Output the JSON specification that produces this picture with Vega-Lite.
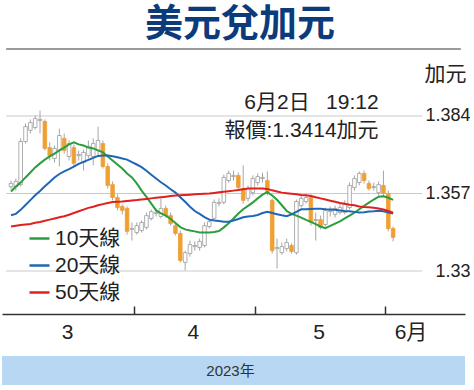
{
  "$schema": "https://vega.github.io/schema/vega-lite/v6.json",
  "padding": {"left": 2, "top": 6, "right": 0, "bottom": 0},
  "background": "white",
  "config": {
    "font": "Liberation Sans, Noto Sans CJK TC, sans-serif",
    "view": {"stroke": null}
  },
  "title": {"text": "美元兌加元", "fontSize": 38, "fontWeight": "bold", "color": "#0c3b7c", "font": "Noto Sans CJK TC, sans-serif", "anchor": "middle", "dx": 4, "offset": 4},
  "datasets": {
    "fx": [
      {"date":"2023-03-02","o":1.3594,"h":1.3615,"l":1.3584,"c":1.3605,"10天線":1.3577,"20天線":1.3494,"50天線":1.3455},
      {"date":"2023-03-03","o":1.3594,"h":1.3622,"l":1.3580,"c":1.3612,"10天線":1.3594,"20天線":1.3499,"50天線":1.3458},
      {"date":"2023-03-05","o":1.3601,"h":1.3762,"l":1.3594,"c":1.3751,"10天線":1.3608,"20天線":1.3513,"50天線":1.3460},
      {"date":"2023-03-06","o":1.3751,"h":1.3814,"l":1.3744,"c":1.3803,"10天線":1.3626,"20天線":1.3530,"50天線":1.3462},
      {"date":"2023-03-07","o":1.3790,"h":1.3828,"l":1.3779,"c":1.3817,"10天線":1.3643,"20天線":1.3547,"50天線":1.3464},
      {"date":"2023-03-08","o":1.3800,"h":1.3842,"l":1.3793,"c":1.3831,"10天線":1.3661,"20天線":1.3564,"50天線":1.3468},
      {"date":"2023-03-09","o":1.3824,"h":1.3859,"l":1.3779,"c":1.3828,"10天線":1.3675,"20天線":1.3579,"50天線":1.3471},
      {"date":"2023-03-10","o":1.3821,"h":1.3828,"l":1.3720,"c":1.3727,"10天線":1.3688,"20天線":1.3595,"50天線":1.3475},
      {"date":"2023-03-12","o":1.3730,"h":1.3748,"l":1.3685,"c":1.3702,"10天線":1.3699,"20天線":1.3610,"50天線":1.3479},
      {"date":"2023-03-13","o":1.3692,"h":1.3737,"l":1.3678,"c":1.3727,"10天線":1.3709,"20天線":1.3626,"50天線":1.3483},
      {"date":"2023-03-14","o":1.3720,"h":1.3796,"l":1.3664,"c":1.3772,"10天線":1.3720,"20天線":1.3638,"50天線":1.3487},
      {"date":"2023-03-15","o":1.3762,"h":1.3779,"l":1.3709,"c":1.3720,"10天線":1.3730,"20天線":1.3647,"50天線":1.3491},
      {"date":"2023-03-16","o":1.3699,"h":1.3755,"l":1.3685,"c":1.3744,"10天線":1.3741,"20天線":1.3655,"50天線":1.3496},
      {"date":"2023-03-17","o":1.3730,"h":1.3741,"l":1.3664,"c":1.3675,"10天線":1.3748,"20天線":1.3664,"50天線":1.3502},
      {"date":"2023-03-19","o":1.3702,"h":1.3720,"l":1.3685,"c":1.3706,"10天線":1.3741,"20天線":1.3673,"50天線":1.3508},
      {"date":"2023-03-20","o":1.3678,"h":1.3723,"l":1.3650,"c":1.3713,"10天線":1.3737,"20天線":1.3680,"50天線":1.3514},
      {"date":"2023-03-21","o":1.3702,"h":1.3755,"l":1.3692,"c":1.3734,"10天線":1.3730,"20天線":1.3687,"50天線":1.3520},
      {"date":"2023-03-22","o":1.3699,"h":1.3762,"l":1.3668,"c":1.3744,"10天線":1.3727,"20天線":1.3694,"50天線":1.3524},
      {"date":"2023-03-23","o":1.3720,"h":1.3803,"l":1.3702,"c":1.3755,"10天線":1.3720,"20天線":1.3701,"50天線":1.3529},
      {"date":"2023-03-24","o":1.3744,"h":1.3755,"l":1.3657,"c":1.3664,"10天線":1.3713,"20天線":1.3702,"50天線":1.3533},
      {"date":"2023-03-26","o":1.3664,"h":1.3675,"l":1.3587,"c":1.3598,"10天線":1.3699,"20天線":1.3702,"50天線":1.3537},
      {"date":"2023-03-27","o":1.3601,"h":1.3612,"l":1.3546,"c":1.3556,"10天線":1.3685,"20天線":1.3700,"50天線":1.3540},
      {"date":"2023-03-28","o":1.3556,"h":1.3567,"l":1.3511,"c":1.3521,"10天線":1.3671,"20天線":1.3696,"50天線":1.3541},
      {"date":"2023-03-29","o":1.3525,"h":1.3532,"l":1.3497,"c":1.3511,"10天線":1.3657,"20天線":1.3692,"50天線":1.3542},
      {"date":"2023-03-30","o":1.3518,"h":1.3525,"l":1.3427,"c":1.3438,"10天線":1.3640,"20天線":1.3688,"50天線":1.3544},
      {"date":"2023-03-31","o":1.3445,"h":1.3469,"l":1.3406,"c":1.3448,"10天線":1.3626,"20天線":1.3679,"50天線":1.3546},
      {"date":"2023-04-02","o":1.3434,"h":1.3469,"l":1.3427,"c":1.3458,"10天線":1.3605,"20天線":1.3671,"50天線":1.3547},
      {"date":"2023-04-03","o":1.3441,"h":1.3476,"l":1.3434,"c":1.3469,"10天線":1.3580,"20天線":1.3662,"50天線":1.3549},
      {"date":"2023-04-04","o":1.3452,"h":1.3504,"l":1.3445,"c":1.3493,"10天線":1.3558,"20天線":1.3649,"50天線":1.3551},
      {"date":"2023-04-05","o":1.3483,"h":1.3514,"l":1.3476,"c":1.3507,"10天線":1.3535,"20天線":1.3635,"50天線":1.3553},
      {"date":"2023-04-06","o":1.3500,"h":1.3518,"l":1.3490,"c":1.3504,"10天線":1.3511,"20天線":1.3622,"50天線":1.3555},
      {"date":"2023-04-07","o":1.3490,"h":1.3553,"l":1.3483,"c":1.3518,"10天線":1.3501,"20天線":1.3609,"50天線":1.3557},
      {"date":"2023-04-09","o":1.3518,"h":1.3528,"l":1.3486,"c":1.3493,"10天線":1.3493,"20天線":1.3598,"50天線":1.3559},
      {"date":"2023-04-10","o":1.3493,"h":1.3504,"l":1.3458,"c":1.3465,"10天線":1.3481,"20天線":1.3585,"50天線":1.3561},
      {"date":"2023-04-11","o":1.3458,"h":1.3469,"l":1.3424,"c":1.3431,"10天線":1.3467,"20天線":1.3573,"50天線":1.3563},
      {"date":"2023-04-12","o":1.3431,"h":1.3441,"l":1.3330,"c":1.3337,"10天線":1.3453,"20天線":1.3557,"50天線":1.3564},
      {"date":"2023-04-13","o":1.3330,"h":1.3371,"l":1.3302,"c":1.3364,"10天線":1.3445,"20天線":1.3541,"50天線":1.3565},
      {"date":"2023-04-14","o":1.3361,"h":1.3406,"l":1.3350,"c":1.3392,"10天線":1.3441,"20天線":1.3524,"50天線":1.3566},
      {"date":"2023-04-16","o":1.3385,"h":1.3403,"l":1.3371,"c":1.3389,"10天線":1.3438,"20天線":1.3509,"50天線":1.3567},
      {"date":"2023-04-17","o":1.3382,"h":1.3413,"l":1.3371,"c":1.3403,"10天線":1.3434,"20天線":1.3499,"50天線":1.3568},
      {"date":"2023-04-18","o":1.3389,"h":1.3469,"l":1.3382,"c":1.3458,"10天線":1.3434,"20天線":1.3488,"50天線":1.3569},
      {"date":"2023-04-19","o":1.3455,"h":1.3483,"l":1.3448,"c":1.3472,"10天線":1.3434,"20天線":1.3479,"50天線":1.3570},
      {"date":"2023-04-20","o":1.3483,"h":1.3549,"l":1.3476,"c":1.3539,"10天線":1.3436,"20天線":1.3476,"50天線":1.3572},
      {"date":"2023-04-21","o":1.3535,"h":1.3553,"l":1.3525,"c":1.3539,"10天線":1.3439,"20天線":1.3474,"50天線":1.3574},
      {"date":"2023-04-23","o":1.3539,"h":1.3636,"l":1.3532,"c":1.3626,"10天線":1.3452,"20天線":1.3472,"50天線":1.3576},
      {"date":"2023-04-24","o":1.3615,"h":1.3650,"l":1.3608,"c":1.3640,"10天線":1.3466,"20天線":1.3472,"50天線":1.3578},
      {"date":"2023-04-25","o":1.3629,"h":1.3650,"l":1.3615,"c":1.3633,"10天線":1.3483,"20天線":1.3476,"50天線":1.3580},
      {"date":"2023-04-26","o":1.3633,"h":1.3643,"l":1.3584,"c":1.3591,"10天線":1.3500,"20天線":1.3481,"50天線":1.3582},
      {"date":"2023-04-27","o":1.3587,"h":1.3668,"l":1.3535,"c":1.3546,"10天線":1.3515,"20天線":1.3487,"50天線":1.3585},
      {"date":"2023-04-28","o":1.3553,"h":1.3598,"l":1.3542,"c":1.3587,"10天線":1.3527,"20天線":1.3490,"50天線":1.3587},
      {"date":"2023-04-30","o":1.3573,"h":1.3633,"l":1.3563,"c":1.3622,"10天線":1.3539,"20天線":1.3492,"50天線":1.3587},
      {"date":"2023-05-01","o":1.3608,"h":1.3640,"l":1.3598,"c":1.3629,"10天線":1.3553,"20天線":1.3495,"50天線":1.3587},
      {"date":"2023-05-02","o":1.3622,"h":1.3643,"l":1.3608,"c":1.3626,"10天線":1.3566,"20天線":1.3502,"50天線":1.3587},
      {"date":"2023-05-03","o":1.3615,"h":1.3647,"l":1.3563,"c":1.3573,"10天線":1.3575,"20天線":1.3506,"50天線":1.3586},
      {"date":"2023-05-04","o":1.3546,"h":1.3553,"l":1.3361,"c":1.3371,"10天線":1.3563,"20天線":1.3502,"50天線":1.3581},
      {"date":"2023-05-05","o":1.3378,"h":1.3413,"l":1.3309,"c":1.3382,"10天線":1.3548,"20天線":1.3498,"50天線":1.3577},
      {"date":"2023-05-07","o":1.3364,"h":1.3399,"l":1.3357,"c":1.3385,"10天線":1.3529,"20天線":1.3494,"50天線":1.3573},
      {"date":"2023-05-08","o":1.3378,"h":1.3413,"l":1.3368,"c":1.3399,"10天線":1.3509,"20天線":1.3491,"50天線":1.3571},
      {"date":"2023-05-09","o":1.3389,"h":1.3396,"l":1.3361,"c":1.3368,"10天線":1.3499,"20天線":1.3497,"50天線":1.3569},
      {"date":"2023-05-10","o":1.3364,"h":1.3549,"l":1.3357,"c":1.3542,"10天線":1.3493,"20天線":1.3506,"50天線":1.3567},
      {"date":"2023-05-11","o":1.3528,"h":1.3563,"l":1.3521,"c":1.3553,"10天線":1.3486,"20天線":1.3515,"50天線":1.3565},
      {"date":"2023-05-12","o":1.3542,"h":1.3567,"l":1.3535,"c":1.3556,"10天線":1.3478,"20天線":1.3515,"50天線":1.3564},
      {"date":"2023-05-14","o":1.3556,"h":1.3567,"l":1.3458,"c":1.3469,"10天線":1.3471,"20天線":1.3516,"50天線":1.3561},
      {"date":"2023-05-15","o":1.3476,"h":1.3504,"l":1.3406,"c":1.3479,"10天線":1.3463,"20天線":1.3517,"50天線":1.3557},
      {"date":"2023-05-16","o":1.3479,"h":1.3493,"l":1.3445,"c":1.3452,"10天線":1.3455,"20天線":1.3517,"50天線":1.3553},
      {"date":"2023-05-17","o":1.3462,"h":1.3521,"l":1.3455,"c":1.3511,"10天線":1.3449,"20天線":1.3515,"50天線":1.3549},
      {"date":"2023-05-18","o":1.3507,"h":1.3525,"l":1.3490,"c":1.3511,"10天線":1.3457,"20天線":1.3514,"50天線":1.3545},
      {"date":"2023-05-19","o":1.3497,"h":1.3528,"l":1.3486,"c":1.3518,"10天線":1.3465,"20天線":1.3513,"50天線":1.3541},
      {"date":"2023-05-21","o":1.3504,"h":1.3535,"l":1.3497,"c":1.3521,"10天線":1.3473,"20天線":1.3511,"50天線":1.3537},
      {"date":"2023-05-22","o":1.3504,"h":1.3546,"l":1.3497,"c":1.3532,"10天線":1.3483,"20天線":1.3509,"50天線":1.3534},
      {"date":"2023-05-23","o":1.3521,"h":1.3608,"l":1.3514,"c":1.3598,"10天線":1.3493,"20天線":1.3508,"50天線":1.3531},
      {"date":"2023-05-24","o":1.3591,"h":1.3633,"l":1.3580,"c":1.3622,"10天線":1.3503,"20天線":1.3506,"50天線":1.3529},
      {"date":"2023-05-25","o":1.3608,"h":1.3647,"l":1.3598,"c":1.3640,"10天線":1.3515,"20天線":1.3504,"50天線":1.3525},
      {"date":"2023-05-26","o":1.3640,"h":1.3650,"l":1.3605,"c":1.3615,"10天線":1.3527,"20天線":1.3505,"50天線":1.3523},
      {"date":"2023-05-28","o":1.3605,"h":1.3615,"l":1.3580,"c":1.3587,"10天線":1.3538,"20天線":1.3507,"50天線":1.3522},
      {"date":"2023-05-29","o":1.3591,"h":1.3608,"l":1.3580,"c":1.3594,"10天線":1.3549,"20天線":1.3508,"50天線":1.3520},
      {"date":"2023-05-30","o":1.3573,"h":1.3612,"l":1.3563,"c":1.3601,"10天線":1.3559,"20天線":1.3510,"50天線":1.3518},
      {"date":"2023-05-31","o":1.3598,"h":1.3650,"l":1.3560,"c":1.3570,"10天線":1.3560,"20天線":1.3508,"50天線":1.3514},
      {"date":"2023-06-01","o":1.3570,"h":1.3580,"l":1.3438,"c":1.3448,"10天線":1.3555,"20天線":1.3504,"50天線":1.3509},
      {"date":"2023-06-02","o":1.3448,"h":1.3455,"l":1.3403,"c":1.3417,"10天線":1.3548,"20天線":1.3500,"50天線":1.3503}
    ]
  },
  "spacing": 14,
  "vconcat": [
    {
      "width": 463,
      "height": 265,
      "data": {"name": "fx"},
      "encoding": {
        "x": {
          "field": "date",
          "type": "ordinal",
          "scale": {
            "domain": ["2023-03-01","2023-03-02","2023-03-03","2023-03-05","2023-03-06","2023-03-07","2023-03-08","2023-03-09","2023-03-10","2023-03-12","2023-03-13","2023-03-14","2023-03-15","2023-03-16","2023-03-17","2023-03-19","2023-03-20","2023-03-21","2023-03-22","2023-03-23","2023-03-24","2023-03-26","2023-03-27","2023-03-28","2023-03-29","2023-03-30","2023-03-31","2023-04-02","2023-04-03","2023-04-04","2023-04-05","2023-04-06","2023-04-07","2023-04-09","2023-04-10","2023-04-11","2023-04-12","2023-04-13","2023-04-14","2023-04-16","2023-04-17","2023-04-18","2023-04-19","2023-04-20","2023-04-21","2023-04-23","2023-04-24","2023-04-25","2023-04-26","2023-04-27","2023-04-28","2023-04-30","2023-05-01","2023-05-02","2023-05-03","2023-05-04","2023-05-05","2023-05-07","2023-05-08","2023-05-09","2023-05-10","2023-05-11","2023-05-12","2023-05-14","2023-05-15","2023-05-16","2023-05-17","2023-05-18","2023-05-19","2023-05-21","2023-05-22","2023-05-23","2023-05-24","2023-05-25","2023-05-26","2023-05-28","2023-05-29","2023-05-30","2023-05-31","2023-06-01","2023-06-02","2023-06-04","2023-06-05","2023-06-06","2023-06-07","2023-06-08","2023-06-09","2023-06-11","2023-06-12","2023-06-13","2023-06-14","2023-06-15","2023-06-16","2023-06-18","2023-06-19"],
            "paddingInner": 0,
            "paddingOuter": 0.36
          },
          "axis": {
            "title": null,
            "values": ["2023-03-16","2023-04-02","2023-04-16","2023-05-01","2023-05-16","2023-06-01","2023-06-07"],
            "bandPosition": 0,
            "labelExpr": "datum.value == '2023-03-16' ? '3' : datum.value == '2023-04-16' ? '4' : datum.value == '2023-05-16' ? '5' : datum.value == '2023-06-07' ? '6月' : ''",
            "labelAngle": 0,
            "labelFontSize": 21,
            "labelColor": "#222222",
            "labelPadding": 15,
            "labelOffset": -1.5,
            "labelOverlap": false,
            "labelBound": false,
            "tickSize": -8,
            "tickColor": "#333333",
            "tickWidth": 1.5,
            "tickOpacity": {"condition": {"test": "datum.value == '2023-04-02' || datum.value == '2023-05-01' || datum.value == '2023-06-01'", "value": 1}, "value": 0},
            "domainColor": "#333333",
            "domainWidth": 1.5,
            "grid": false
          }
        }
      },
      "layer": [
        {
          "data": {"values": [{"g": 1.33}, {"g": 1.357}, {"g": 1.384}]},
          "mark": {"type": "rule", "color": "#c9c9c9", "strokeWidth": 1},
          "encoding": {
            "x": {"datum": "2023-03-01", "type": "ordinal"},
            "x2": {"datum": "2023-06-09"},
            "y": {
              "field": "g",
              "type": "quantitative",
              "scale": {"domain": [1.31502, 1.40734], "nice": false, "zero": false},
              "axis": {
                "orient": "right",
                "title": "加元",
                "titleAngle": 0,
                "titleX": -20,
                "titleY": 25,
                "titleAlign": "center",
                "titleBaseline": "middle",
                "titleFontSize": 21,
                "titleFontWeight": "normal",
                "titleColor": "#222222",
                "values": [1.33, 1.357, 1.384],
                "format": ".3~f",
                "grid": false,
                "domain": false,
                "ticks": false,
                "labelPadding": 5,
                "labelAlign": "right",
                "labelBaseline": "middle",
                "labelFontSize": 18,
                "labelColor": "#222222"
              }
            }
          }
        },
        {
          "mark": {"type": "rule", "color": "#a6a6a6", "strokeWidth": 1},
          "encoding": {
            "y": {"field": "l", "type": "quantitative"},
            "y2": {"field": "h"}
          }
        },
        {
          "mark": {"type": "bar", "size": 3.6, "strokeWidth": 0.8},
          "encoding": {
            "y": {"field": "o", "type": "quantitative"},
            "y2": {"field": "c"},
            "fill": {"condition": {"test": "datum.c >= datum.o", "value": "#ffffff"}, "value": "#f0a032"},
            "stroke": {"condition": {"test": "datum.c >= datum.o", "value": "#9c9c9c"}, "value": "#f0a032"}
          }
        },
        {
          "transform": [{"fold": ["10天線", "20天線", "50天線"], "as": ["ma", "v"]}],
          "mark": {"type": "line", "strokeWidth": 2},
          "encoding": {
            "y": {"field": "v", "type": "quantitative"},
            "color": {
              "field": "ma",
              "type": "nominal",
              "scale": {"domain": ["10天線", "20天線", "50天線"], "range": ["#2a9e3c", "#1f66b5", "#e0201e"]},
              "legend": {
                "orient": "none",
                "legendX": 26,
                "legendY": 178,
                "title": null,
                "direction": "vertical",
                "symbolType": "stroke",
                "symbolSize": 400,
                "symbolStrokeWidth": 2.5,
                "labelFontSize": 21,
                "labelColor": "#222222",
                "labelOffset": 4,
                "rowPadding": 5,
                "padding": 0,
                "labelLimit": 200
              }
            }
          }
        },
        {
          "data": {"values": [{}]},
          "mark": {"type": "rule", "color": "#9a9a9a", "strokeWidth": 2},
          "encoding": {
            "x": {"datum": "2023-03-01", "type": "ordinal"},
            "x2": {"datum": "2023-06-19"},
            "y": {"datum": 1.40734, "type": "quantitative"}
          }
        },
        {
          "data": {"values": [{}]},
          "mark": {"type": "text", "text": "6月2日\u2002 19:12", "align": "right", "baseline": "middle", "fontSize": 21, "color": "#222222"},
          "encoding": {
            "x": {"datum": "2023-05-30", "type": "ordinal"},
            "y": {"datum": 1.3887, "type": "quantitative"}
          }
        },
        {
          "data": {"values": [{}]},
          "mark": {"type": "text", "text": "報價:1.3414加元", "align": "right", "baseline": "middle", "fontSize": 21, "color": "#222222"},
          "encoding": {
            "x": {"datum": "2023-05-30", "type": "ordinal"},
            "y": {"datum": 1.3786, "type": "quantitative"}
          }
        }
      ]
    },
    {
      "width": 463,
      "height": 29,
      "view": {"fill": "#b7d7f2", "stroke": null},
      "data": {"values": [{}]},
      "mark": {"type": "text", "text": "2023年", "fontSize": 15, "color": "#333333", "dx": -3}
    }
  ]
}
